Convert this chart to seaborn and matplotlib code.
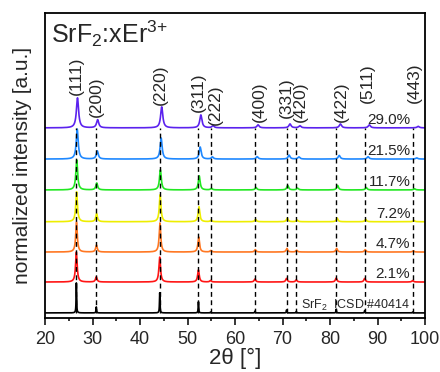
import numpy as np
import pandas as pd
import matplotlib
matplotlib.use("Agg")
import matplotlib.pyplot as plt
import seaborn as sns
from matplotlib.ticker import MultipleLocator

# ---------------- data ----------------
samples = ["ICSD", "2.1%", "4.7%", "7.2%", "11.7%", "21.5%", "29.0%"]
hkl_labels = ["(111)", "(200)", "(220)", "(311)", "(222)", "(400)",
              "(331)", "(420)", "(422)", "(511)", "(443)"]

# reference (SrF2 ICSD #40414) reflection positions, 2theta [deg]
icsd_pos = [26.60, 30.80, 44.15, 52.30, 54.85, 64.20, 70.85, 72.90, 81.30, 87.30, 97.40]

# observed peak positions per sample
pos_icsd = icsd_pos
pos_2_1 = [26.60, 30.80, 44.15, 52.30, 54.85, 64.20, 70.85, 72.90, 81.30, 87.30, 97.40]
pos_4_7 = [26.63, 30.83, 44.20, 52.36, 54.91, 64.27, 70.93, 72.98, 81.40, 87.41, 97.53]
pos_7_2 = [26.65, 30.86, 44.24, 52.41, 54.97, 64.34, 71.01, 73.07, 81.50, 87.52, 97.66]
pos_11_7 = [26.68, 30.89, 44.29, 52.47, 55.03, 64.42, 71.09, 73.15, 81.60, 87.63, 97.79]
pos_21_5 = [26.78, 31.01, 44.45, 52.67, 55.24, 64.67, 71.38, 73.45, 81.94, 88.01, 98.25]
pos_29_0 = [26.84, 31.08, 44.57, 52.81, 55.38, 64.85, 71.58, 73.66, 82.19, 88.28, 98.57]

# normalized peak intensities per sample
int_icsd = [1.00, 0.20, 0.67, 0.37, 0.03, 0.06, 0.10, 0.05, 0.12, 0.08, 0.03]
int_2_1 = [1.00, 0.17, 0.83, 0.40, 0.05, 0.10, 0.12, 0.07, 0.13, 0.12, 0.05]
int_4_7 = [1.00, 0.23, 0.97, 0.50, 0.05, 0.08, 0.12, 0.06, 0.12, 0.08, 0.04]
int_7_2 = [1.00, 0.27, 0.90, 0.50, 0.05, 0.08, 0.12, 0.06, 0.12, 0.08, 0.04]
int_11_7 = [1.00, 0.23, 0.67, 0.47, 0.05, 0.08, 0.15, 0.06, 0.15, 0.08, 0.04]
int_21_5 = [1.00, 0.27, 0.70, 0.40, 0.07, 0.08, 0.13, 0.07, 0.12, 0.08, 0.04]
int_29_0 = [1.00, 0.27, 0.70, 0.43, 0.07, 0.10, 0.13, 0.07, 0.13, 0.10, 0.05]

# peak widths (FWHM, deg) per sample
fwhm = [0.12, 0.40, 0.40, 0.42, 0.45, 0.50, 0.55]

# ---------------- style / layout ----------------
offsets = [0.17, 1.20, 2.20, 3.21, 4.27, 5.30, 6.34]
colors = ["#000000", "#ff1515", "#ff7722", "#eeee00", "#22e822", "#1e88ff", "#5b22ee"]
label_dx = [0.07, 0.08, 0.06, 0.06, 1.05, 0.85, -0.11, 0.78, 1.0, 0.49, 0.28]
label_y = [7.43, 6.70, 7.10, 6.87, 6.43, 6.53, 6.67, 6.53, 6.53, 7.17, 7.17]

sns.set_theme(style="ticks")
plt.rcParams["font.family"] = ["Liberation Sans", "DejaVu Sans"]
plt.rcParams["mathtext.default"] = "regular"

positions = [pos_icsd, pos_2_1, pos_4_7, pos_7_2, pos_11_7, pos_21_5, pos_29_0]
intensities = [int_icsd, int_2_1, int_4_7, int_7_2, int_11_7, int_21_5, int_29_0]

x = np.linspace(20, 100, 8001)
frames = []
for name, pos, inten, w, off in zip(samples, positions, intensities, fwhm, offsets):
    y = np.full_like(x, off)
    for p, h in zip(pos, inten):
        y += h / (1 + ((x - p) / (w / 2)) ** 2)
    frames.append(pd.DataFrame({"x": x, "y": y, "sample": name}))
df = pd.concat(frames, ignore_index=True)

fig = plt.figure(figsize=(4.4, 3.72), dpi=100)
ax = fig.add_axes([45 / 440, 54 / 372, 380 / 440, 305 / 372])

sns.lineplot(data=df, x="x", y="y", hue="sample", hue_order=samples,
             palette=dict(zip(samples, colors)), estimator=None, sort=False,
             legend=False, lw=1.2, ax=ax)

ax.vlines(icsd_pos, offsets[0], offsets[-1], colors="black", lw=1.0,
          linestyles=(0, (3.5, 2.5)), zorder=3)

for lab, p, dx, ly in zip(hkl_labels, icsd_pos, label_dx, label_y):
    ax.text(p + dx, ly, lab, rotation=90, ha="center", va="bottom", fontsize=12.5)

for name, off in zip(samples[1:], offsets[1:]):
    ax.text(96.9, off + 0.14, name, ha="right", va="baseline", fontsize=11)

ax.text(96.8, 0.30, "SrF$_2$  ICSD #40414", ha="right", va="baseline", fontsize=9)
ax.text(21.2, 9.18, "SrF$_2$:xEr$^{3\\!+}$", ha="left", va="baseline", fontsize=18)

ax.set_xlim(20, 100)
ax.set_ylim(0, 10.17)
ax.set_yticks([])
ax.xaxis.set_major_locator(MultipleLocator(10))
ax.xaxis.set_minor_locator(MultipleLocator(5))
ax.tick_params(axis="x", which="major", direction="out", length=5, width=1.1,
               labelsize=13, pad=4, color="black")
ax.tick_params(axis="x", which="minor", direction="out", length=2.5, width=1.1,
               bottom=True, color="black")
for s in ax.spines.values():
    s.set_linewidth(1.3)
    s.set_color("black")

ax.set_xlabel("2θ [°]", fontsize=16, labelpad=0,
              family=["Liberation Sans", "DejaVu Sans"])
ax.set_ylabel("normalized intensity [a.u.]", fontsize=15, labelpad=9)

fig.savefig("out.png", dpi=100)
